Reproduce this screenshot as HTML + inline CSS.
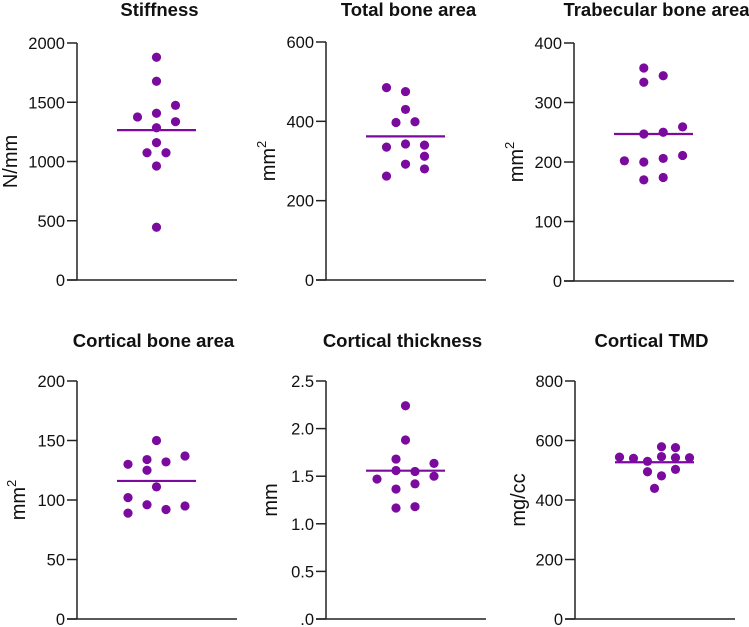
<!DOCTYPE html>
<html><head><meta charset="utf-8">
<style>
html,body{margin:0;padding:0;background:#fff;}
svg{display:block;font-family:"Liberation Sans",Arial,sans-serif;}
</style></head>
<body>
<svg id="chart" width="749" height="627" viewBox="0 0 749 627" xmlns="http://www.w3.org/2000/svg"></svg>
<script>
// ---- data ----
const stiffnessValues = [1880,1677,1376,1407,1474,1336,1285,1159,1074,1074,962,445];
const stiffnessJitter = [0,0,-2,0,2,2,0,0,-1,1,0,0];
const stiffnessMean = 1265;
const stiffnessTicks = ["0","500","1000","1500","2000"];

const totalAreaValues = [485,475,430,397,399,335,343,340,312,292,280,262];
const totalAreaJitter = [-2,0,0,-1,1,-2,0,2,2,0,2,-2];
const totalAreaMean = 362;
const totalAreaTicks = ["0","200","400","600"];

const trabAreaValues = [358,334,345,202,200,170,206,174,211,247,250,259];
const trabAreaJitter = [-1,-1,1,-3,-1,-1,1,1,3,-1,1,3];
const trabAreaMean = 247;
const trabAreaTicks = ["0","100","200","300","400"];

const cortAreaValues = [150,130,134,132,137,125,111,102,89,96,92,95];
const cortAreaJitter = [0,-3,-1,1,3,-1,0,-3,-3,-1,1,3];
const cortAreaMean = 116;
const cortAreaTicks = ["0","50","100","150","200"];

const cortThickValues = [2.24,1.88,1.68,1.56,1.55,1.635,1.50,1.47,1.365,1.42,1.166,1.18];
const cortThickJitter = [0,0,-1,-1,1,3,3,-3,-1,1,-1,1];
const cortThickMean = 1.558;
const cortThickTicks = [".0","0.5","1.0","1.5","2.0","2.5"];

const tmdValues = [544,540,530,495,579,546,481,439,576,542,503,542];
const tmdJitter = [-5,-3,-1,-1,1,1,1,0,3,3,3,5];
const tmdMean = 527;
const tmdTicks = ["0","200","400","600","800"];

const panels = [
  {name:"stiffness", title:"Stiffness", unit:"N/mm", sup:false, vals:stiffnessValues, jit:stiffnessJitter, mean:stiffnessMean, ticks:stiffnessTicks, max:2000, ax:77, top:43, bot:280, step:9.5, ulx:10},
  {name:"total-bone-area", title:"Total bone area", unit:"mm", sup:true, vals:totalAreaValues, jit:totalAreaJitter, mean:totalAreaMean, ticks:totalAreaTicks, max:600, ax:326, top:42, bot:280, step:9.5, ulx:268},
  {name:"trabecular-bone-area", title:"Trabecular bone area", unit:"mm", sup:true, vals:trabAreaValues, jit:trabAreaJitter, mean:trabAreaMean, ticks:trabAreaTicks, max:400, ax:574, top:43, bot:281, step:9.7, ulx:516},
  {name:"cortical-bone-area", title:"Cortical bone area", unit:"mm", sup:true, vals:cortAreaValues, jit:cortAreaJitter, mean:cortAreaMean, ticks:cortAreaTicks, max:200, ax:77, top:381, bot:619, step:9.5, ulx:18},
  {name:"cortical-thickness", title:"Cortical thickness", unit:"mm", sup:false, vals:cortThickValues, jit:cortThickJitter, mean:cortThickMean, ticks:cortThickTicks, max:2.5, ax:326, top:381, bot:619, step:9.5, ulx:270},
  {name:"cortical-tmd", title:"Cortical TMD", unit:"mg/cc", sup:false, vals:tmdValues, jit:tmdJitter, mean:tmdMean, ticks:tmdTicks, max:800, ax:575, top:381, bot:619, step:7, ulx:518}
];

const NS = "http://www.w3.org/2000/svg";
const svg = document.getElementById("chart");
const PURPLE = "#7b0a9e";
function mk(tag, attrs, parent){
  const e = document.createElementNS(NS, tag);
  for (const k in attrs) e.setAttribute(k, attrs[k]);
  parent.appendChild(e);
  return e;
}

panels.forEach(p => {
  const g = mk("g", {}, svg);
  
  
  const y = v => p.bot - (v / p.max) * (p.bot - p.top);
  const cx = p.ax + 79.5;
  const x = j => cx + j * p.step;
  const topRow = p.top < 100;
  const titleY = topRow ? 16 : 347;
  const titleX = topRow ? cx + 3 : cx - 3;

  const t = mk("text", {x: titleX, y: titleY, "text-anchor": "middle", "font-size": 18.5, "font-weight": "bold", fill: "#111"}, g);
  t.textContent = p.title;
  
  

  const ya = mk("line", {x1: p.ax, y1: p.top, x2: p.ax, y2: p.bot, stroke: "#222", "stroke-width": 1.5}, g);
  
  
  const xa = mk("line", {x1: p.ax - 10, y1: p.bot, x2: p.ax + 160, y2: p.bot, stroke: "#222", "stroke-width": 1.5}, g);
  
  

  const n = p.ticks.length - 1;
  p.ticks.forEach((lab, i) => {
    const v = p.max * i / n;
    const ty = y(v);
    const tk = mk("line", {x1: p.ax - 10, y1: ty, x2: p.ax, y2: ty, stroke: "#222", "stroke-width": 1.5}, g);
    
    
    const tl = mk("text", {x: p.ax - 12, y: ty + 6, "text-anchor": "end", "font-size": 16.5, fill: "#111"}, g);
    tl.textContent = lab;
    
    
  });

  const uy = (p.top + p.bot) / 2;
  const ut = mk("text", {x: p.ulx, y: uy, "text-anchor": "middle", "font-size": 20, fill: "#111", transform: `rotate(-90 ${p.ulx} ${uy})`, dy: 7}, g);
  ut.textContent = p.unit;
  if (p.sup) {
    const s = mk("tspan", {"font-size": 13, dy: -9}, ut);
    s.textContent = "2";
  }
  
  

  p.vals.forEach((v, i) => {
    const c = mk("circle", {cx: x(p.jit[i]), cy: y(v), r: 4.6, fill: PURPLE}, g);
    
    
  });

  const ml = mk("line", {x1: cx - 39.5, x2: cx + 39.5, y1: y(p.mean), y2: y(p.mean), stroke: PURPLE, "stroke-width": 2.2}, g);
  
  
});
</script>
</body></html>
